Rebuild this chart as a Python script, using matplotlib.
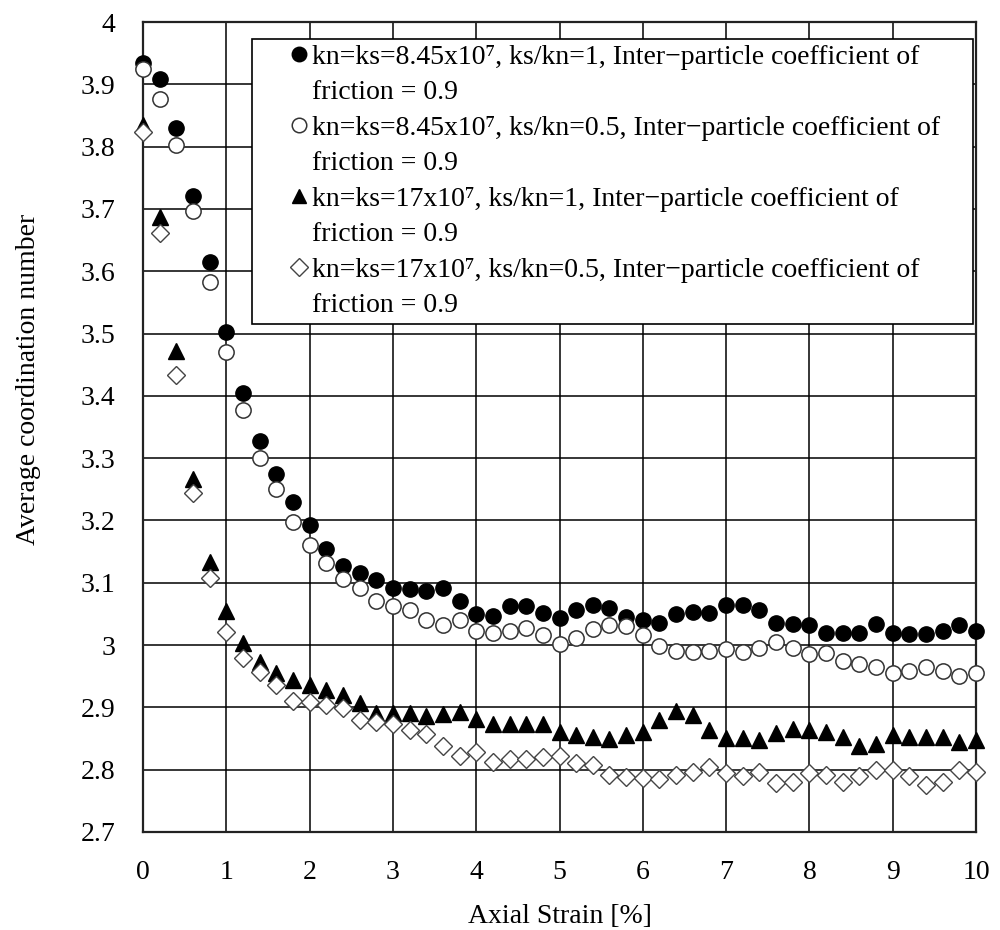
import numpy as np
import matplotlib
matplotlib.use('Agg')
import matplotlib.pyplot as plt
from matplotlib.lines import Line2D
from matplotlib.ticker import FuncFormatter

plt.rcParams['font.family'] = ['Liberation Serif', 'DejaVu Serif']

strain = np.arange(51) * 0.2

cn_845_1 = [3.934, 3.908, 3.830, 3.720, 3.615, 3.503, 3.405, 3.328, 3.275, 3.230,
            3.193, 3.155, 3.127, 3.116, 3.104, 3.091, 3.090, 3.086, 3.091, 3.071,
            3.050, 3.047, 3.062, 3.062, 3.051, 3.043, 3.056, 3.064, 3.059, 3.045,
            3.040, 3.035, 3.050, 3.053, 3.051, 3.064, 3.064, 3.056, 3.035, 3.034,
            3.032, 3.020, 3.020, 3.020, 3.034, 3.020, 3.017, 3.017, 3.023, 3.033,
            3.023]
cn_845_05 = [3.924, 3.877, 3.802, 3.697, 3.583, 3.470, 3.378, 3.301, 3.251, 3.197,
             3.161, 3.132, 3.106, 3.091, 3.071, 3.063, 3.057, 3.040, 3.033, 3.040,
             3.023, 3.019, 3.022, 3.027, 3.016, 3.001, 3.012, 3.025, 3.032, 3.031,
             3.016, 2.998, 2.991, 2.989, 2.991, 2.993, 2.989, 2.996, 3.005, 2.996,
             2.985, 2.987, 2.975, 2.970, 2.964, 2.955, 2.959, 2.964, 2.958, 2.951,
             2.955]
cn_17_1 = [3.834, 3.687, 3.472, 3.266, 3.133, 3.055, 3.003, 2.973, 2.955, 2.944,
           2.936, 2.928, 2.920, 2.907, 2.891, 2.891, 2.891, 2.886, 2.889, 2.892,
           2.882, 2.874, 2.874, 2.874, 2.874, 2.861, 2.856, 2.853, 2.849, 2.855,
           2.861, 2.880, 2.894, 2.887, 2.864, 2.851, 2.851, 2.847, 2.859, 2.865,
           2.864, 2.861, 2.852, 2.838, 2.841, 2.856, 2.852, 2.852, 2.852, 2.844,
           2.847]
cn_17_05 = [3.824, 3.661, 3.434, 3.244, 3.107, 3.021, 2.980, 2.957, 2.936, 2.911,
            2.909, 2.904, 2.899, 2.880, 2.877, 2.874, 2.863, 2.857, 2.838, 2.822,
            2.829, 2.813, 2.817, 2.817, 2.820, 2.822, 2.810, 2.808, 2.791, 2.788,
            2.787, 2.785, 2.791, 2.797, 2.804, 2.794, 2.790, 2.797, 2.778, 2.781,
            2.794, 2.791, 2.781, 2.790, 2.800, 2.800, 2.790, 2.776, 2.781, 2.800,
            2.796]

labels = ['kn=ks=8.45x10\u2077, ks/kn=1, Inter\u2212particle coefficient of',
          'kn=ks=8.45x10\u2077, ks/kn=0.5, Inter\u2212particle coefficient of',
          'kn=ks=17x10\u2077, ks/kn=1, Inter\u2212particle coefficient of',
          'kn=ks=17x10\u2077, ks/kn=0.5, Inter\u2212particle coefficient of']

fs = 20

fig = plt.figure(figsize=(10, 9.3), dpi=100)
ax = fig.add_axes([0.143, 0.1054, 0.833, 0.8709])

s1, = ax.plot(strain, cn_845_1, 'o', ms=11, mfc='black', mec='black', ls='none', clip_on=False, zorder=3)
s2, = ax.plot(strain, cn_845_05, 'o', ms=11, mfc='white', mec='#333333', mew=1.1, ls='none', clip_on=False, zorder=3)
s3, = ax.plot(strain, cn_17_1, '^', ms=11, mfc='black', mec='black', ls='none', clip_on=False, zorder=3)
s4, = ax.plot(strain, cn_17_05, 'D', ms=9.5, mfc='white', mec='#444444', mew=1.0, ls='none', clip_on=False, zorder=3)

ax.set_xlim(0, 10)
ax.set_ylim(2.7, 4.0)
ax.set_xticks(np.arange(0, 11, 1))
ax.set_yticks(np.round(np.arange(2.7, 4.01, 0.1), 1))
ax.yaxis.set_major_formatter(FuncFormatter(lambda v, p: '%g' % round(v, 1)))
ax.grid(True, color='black', lw=1.1)
ax.set_axisbelow(True)
ax.tick_params(length=0, labelsize=fs)
ax.tick_params(axis='x', pad=20)
ax.tick_params(axis='y', pad=20)
for sp in ax.spines.values():
    sp.set_linewidth(1.6)
    sp.set_color('#222222')

ax.set_xlabel('Axial Strain [%]', fontsize=fs, labelpad=14)
ax.set_ylabel('Average coordination number', fontsize=fs)
ax.yaxis.set_label_coords(-0.122, 0.559)

blank = Line2D([], [], ls='none', marker='None')
handles = []
texts = []
for h, lab in zip([s1, s2, s3, s4], labels):
    handles += [Line2D([], [], ls='none', marker=h.get_marker(), ms=h.get_markersize() * 0.95,
                       mfc=h.get_markerfacecolor(), mec=h.get_markeredgecolor(), mew=h.get_markeredgewidth()),
                blank]
    texts += [lab, 'friction = 0.9']
leg = ax.legend(handles, texts, loc='upper left', bbox_to_anchor=(0.1309, 0.5, 0.8655, 0.479),
                mode='expand', fontsize=fs, handlelength=2.95, handletextpad=-1.0,
                labelspacing=0.36, borderpad=0.2, fancybox=False, framealpha=1,
                edgecolor='black', borderaxespad=0)
leg.get_frame().set_linewidth(1.2)

plt.savefig('out.png', dpi=100)
